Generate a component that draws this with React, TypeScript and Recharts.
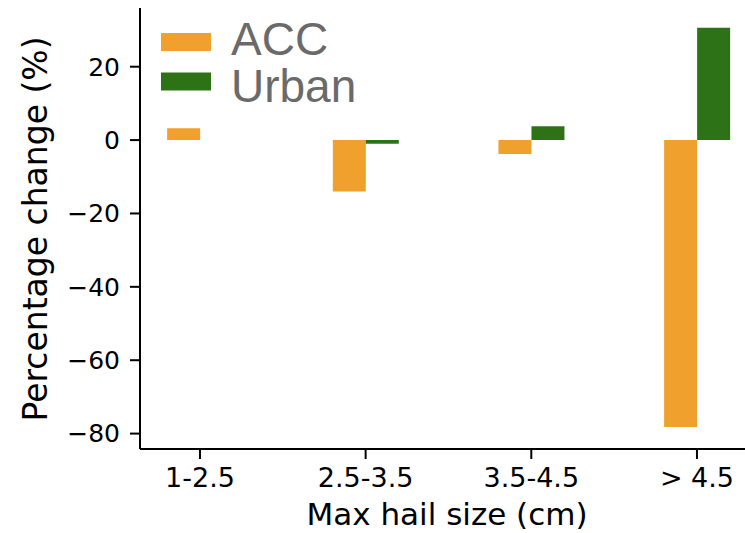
import { Bar, BarChart, Legend, XAxis, YAxis } from "recharts";

const categories = ["1-2.5", "2.5-3.5", "3.5-4.5", "> 4.5"];
const accValues = [3.2, -14, -3.8, -78.2];
const urbanValues = [0, -1, 3.8, 30.6];
const yTicks = [-80, -60, -40, -20, 0, 20];

const ACC_COLOR = "#f0a02c";
const URBAN_COLOR = "#2e7217";

const data = categories.map((name, i) => ({
	x: i,
	name,
	acc: accValues[i],
	urban: urbanValues[i],
}));

const yTickFont = { fontFamily: "DejaVu Sans", fontSize: 25, fill: "#000" };
const xTickFont = { fontFamily: "DejaVu Sans", fontSize: 27, fill: "#000" };

function LegendBox({ payload }: any) {
	if (!payload) return null;
	return (
		<svg width={300} height={110} style={{ overflow: "visible", display: "block" }}>
			{payload.map((p: any, i: number) => (
				<g key={p.value}>
					<rect x={11} y={13 + i * 39.5} width={50} height={18} fill={p.color} />
					<text
						x={81}
						y={35 + i * 46.7}
						fontFamily="Liberation Sans, Arial, sans-serif"
						fontSize={46}
						fill="#6a6a6a"
					>
						{p.value}
					</text>
				</g>
			))}
		</svg>
	);
}

export default function App() {
	return (
		<div style={{ position: "absolute", left: 0, top: 0, background: "#fff" }}>
			<BarChart
				width={745}
				height={533}
				data={data}
				margin={{ top: 8, right: 0, left: 0, bottom: 0 }}
				barGap={0}
			>
				<XAxis
					xAxisId="top"
					orientation="top"
					type="number"
					dataKey="x"
					domain={[-0.362, 3.29]}
					allowDataOverflow
					tick={false}
					tickLine={false}
					height={0}
					axisLine={{ stroke: "#000", strokeWidth: 2.5 }}
				/>
				<XAxis
					type="number"
					dataKey="x"
					domain={[-0.362, 3.29]}
					allowDataOverflow
					ticks={[0, 1, 2, 3]}
					tickFormatter={(v: number) => categories[v]}
					height={84}
					tickSize={10}
					tickMargin={9}
					tick={xTickFont}
					axisLine={{ stroke: "#000", strokeWidth: 2 }}
					tickLine={{ stroke: "#000", strokeWidth: 2 }}
					label={{
						content: () => (
							<text
								x={447}
								y={525}
								textAnchor="middle"
								fontFamily="DejaVu Sans"
								fontSize={31}
								fill="#000"
							>
								Max hail size (cm)
							</text>
						),
					}}
				/>
				<YAxis
					type="number"
					domain={[-84.2, 36]}
					allowDataOverflow
					ticks={yTicks}
					tickFormatter={(v: number) => String(v).replace("-", "\u2212")}
					width={140}
					tickSize={10}
					tickMargin={10}
					tick={yTickFont}
					axisLine={{ stroke: "#000", strokeWidth: 2 }}
					tickLine={{ stroke: "#000", strokeWidth: 2 }}
					label={{
						content: () => (
							<text
								x={47}
								y={229}
								transform="rotate(-90 47 229)"
								textAnchor="middle"
								fontFamily="DejaVu Sans"
								fontSize={33}
								fill="#000"
							>
								Percentage change (%)
							</text>
						),
					}}
				/>
				<Legend
					layout="vertical"
					align="center"
					verticalAlign="middle"
					content={<LegendBox />}
					wrapperStyle={{ position: "absolute", left: 150, top: 20, width: 300 }}
				/>
				<Bar dataKey="acc" name="ACC" fill={ACC_COLOR} barSize={33} isAnimationActive={false} />
				<Bar dataKey="urban" name="Urban" fill={URBAN_COLOR} barSize={33} isAnimationActive={false} />
			</BarChart>
		</div>
	);
}
